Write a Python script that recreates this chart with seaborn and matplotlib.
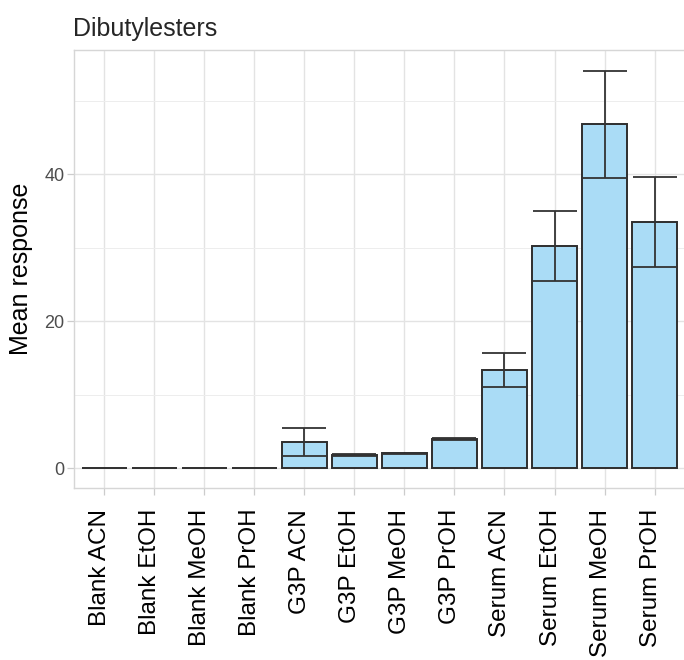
import matplotlib
matplotlib.use("Agg")
import matplotlib.pyplot as plt
import matplotlib.transforms as mtransforms
from matplotlib.ticker import MultipleLocator
import seaborn as sns
import pandas as pd

# Mean response per sample / solvent combination, with error half-widths
samples = ["Blank ACN", "Blank EtOH", "Blank MeOH", "Blank PrOH",
           "G3P ACN", "G3P EtOH", "G3P MeOH", "G3P PrOH",
           "Serum ACN", "Serum EtOH", "Serum MeOH", "Serum PrOH"]
mean_response = [0.0, 0.0, 0.0, 0.0, 3.5, 1.8, 2.0, 4.0, 13.3, 30.2, 46.8, 33.5]
error = [0.0, 0.0, 0.0, 0.0, 1.9, 0.12, 0.05, 0.15, 2.3, 4.8, 7.3, 6.1]

df = pd.DataFrame({"sample": samples, "mean": mean_response, "err": error})

sns.set_theme(style="whitegrid")
plt.rcParams["font.family"] = ["Liberation Sans", "DejaVu Sans"]

fig = plt.figure(figsize=(6.84, 6.6), dpi=100)
ax = fig.add_axes([74 / 684, 1 - 488 / 660, 1 - 74 / 684 + 0.001, (488 - 50) / 660])

sns.barplot(data=df, x="sample", y="mean", order=samples, width=0.9,
            color="#AADCF6", saturation=1, edgecolor="#2E2E2E",
            linewidth=1.4, errorbar=None, ax=ax)

# caps span the full bar width (0.9 category units ~ 45 px)
ax.errorbar(x=range(len(samples)), y=df["mean"], yerr=df["err"], fmt="none",
            ecolor="#333333", elinewidth=1.3, capsize=15.8, capthick=1.3,
            zorder=3)

ax.set_xlim(-0.6, len(samples) - 0.4)
ax.set_ylim(-2.72, 56.9)
ax.yaxis.set_major_locator(MultipleLocator(20))
ax.yaxis.set_minor_locator(MultipleLocator(10))

ax.set_facecolor("white")
ax.grid(True, which="major", color="#E3E3E3", linewidth=1.0)
ax.grid(True, which="minor", axis="y", color="#EDEDED", linewidth=0.7)
ax.set_axisbelow(True)
for side in ["left", "right", "top", "bottom"]:
    ax.spines[side].set_visible(True)
    ax.spines[side].set_color("#D6D6D6")
    ax.spines[side].set_linewidth(1.0)

ax.tick_params(axis="both", which="major", length=5, width=0.9,
               color="#CCCCCC", bottom=True, left=True)
ax.tick_params(axis="both", which="minor", length=0)
ax.tick_params(axis="y", labelsize=13, labelcolor="#4D4D4D", pad=2)
ax.tick_params(axis="x", labelsize=17.5, labelcolor="black", pad=10)

for lab in ax.get_xticklabels():
    lab.set_rotation(90)
    lab.set_ha("center")
    lab.set_va("top")
    lab.set_transform(lab.get_transform() +
                      mtransforms.ScaledTranslation(-4 / 100, 0, fig.dpi_scale_trans))

ax.set_xlabel("")
ax.set_ylabel("Mean response", fontsize=18, color="black", labelpad=8)
ax.set_title("Dibutylesters", fontsize=18, loc="left", pad=10, x=-0.001)

fig.savefig("out.png", dpi=100)
